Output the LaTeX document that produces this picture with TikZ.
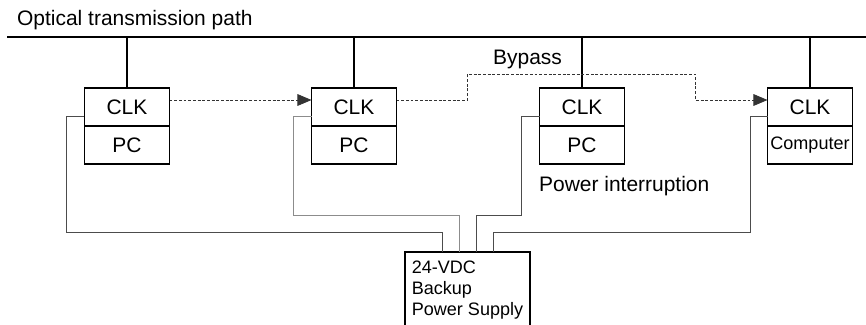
\documentclass[tikz,border=0pt]{standalone}
\usepackage{fontspec}
\setmainfont{Liberation Sans}
\usetikzlibrary{positioning,calc,arrows.meta}
\newcommand{\bigtxt}{\fontsize{17.9}{21.5}\selectfont}
\newcommand{\smalltxt}{\fontsize{15.4}{17.9}\selectfont}

\begin{document}
\begin{tikzpicture}[x=0.03cm,y=-0.03cm,
  cell/.style={draw, line width=1.6pt, minimum width=2.55cm,
    minimum height=1.14cm, inner sep=0pt, outer sep=0pt, font=\bigtxt},
  bus/.style={line width=2pt},
  stem/.style={line width=1.6pt},
  wire/.style={black!70, line width=0.7pt},
  bypass/.style={black!80, line width=0.7pt, dash pattern=on 2.5pt off 1.5pt},
  arrowhd/.style={-{Triangle[length=12pt,width=10pt]}}
]
\useasboundingbox (0,0) rectangle (866,324);

% ---- layout parameters ----
\def\yBus{37}            % y of the optical path
\def\yClk{107}           % row y for the CLK cells

% Station macro (name, centre x, lower text)
\newcommand{\station}[3]{%
  \node[cell] (clk#1) at (#2,\yClk) {CLK};
  \node[cell, below=0pt of clk#1] (pc#1) {#3};
  \draw[stem] (clk#1.north) -- (clk#1.north |- busL);}

% Optical transmission path
\coordinate (busL) at (7,\yBus);
\coordinate (busR) at (866,\yBus);
\draw[bus] (busL) -- (busR);
\node[anchor=base west, font=\bigtxt] (title) at (13,25) {Optical transmission path};

% ---- stations ----
\station{1}{127}{PC}
\station{2}{354}{PC}
\station{3}{582}{PC}
\station{4}{810}{\smalltxt Computer}

% Backup supply
\node[draw, line width=1.6pt, anchor=north, minimum width=3.75cm,
  minimum height=2.28cm, align=left, inner sep=0pt, outer sep=0pt,
  font=\smalltxt] (ps) at (467.5,252) {24-VDC\\Backup\\Power Supply};

% Supply wires
\draw[wire] ($(clk1.west)+(0,9)$) -| ++(-18,116) -| ($(ps.north)+(-25,0)$);
\draw[wire, black!45] ($(clk2.west)+(0,9)$) -| ++(-18,99) -| ($(ps.north)+(-8.5,0)$);
\draw[wire] ($(clk3.west)+(0,9)$) -| ++(-18,99) -| ($(ps.north)+(8.5,0)$);
\draw[wire] ($(clk4.west)+(0,9)$) -| ++(-17,116) -| ($(ps.north)+(25.5,0)$);

% Bypass around station 3
\draw[bypass, arrowhd] ($(clk1.east)+(0,-7)$) -- ($(clk2.west)+(0,-7)$);
\draw[bypass, arrowhd] ($(clk2.east)+(0,-7)$) -- ++(71,0) -- ++(0,-26)
  -- ++(228,0) -- ++(0,26) -- ($(clk4.west)+(0,-7)$);
\node[anchor=base west, font=\bigtxt] (bypasslbl) at (489,64) {Bypass};
\node[anchor=base west, font=\bigtxt] (outage) at (535,191) {Power interruption};

\end{tikzpicture}
\end{document}
